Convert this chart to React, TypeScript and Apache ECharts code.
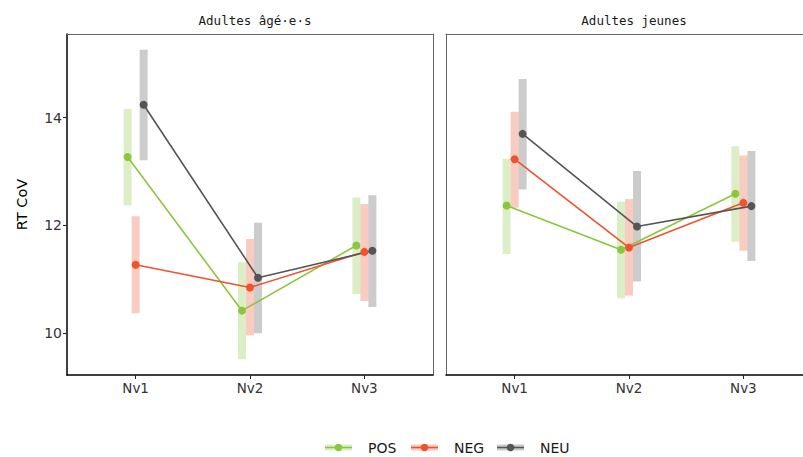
import React, { useEffect, useRef } from "react";
import * as echarts from "echarts";

const categories = ["Nv1", "Nv2", "Nv3"];
const panelTitles = ["Adultes âgé·e·s", "Adultes jeunes"];
const groups = ["POS", "NEG", "NEU"];
const groupColors = ["#8cc63f", "#f0522f", "#555555"];
const yTicks = [10, 12, 14];

// Adultes âgé·e·s
const posOld = [13.27, 10.42, 11.63];
const posOldLo = [12.37, 9.52, 10.73];
const posOldHi = [14.16, 11.32, 12.52];
const negOld = [11.27, 10.85, 11.51];
const negOldLo = [10.37, 9.96, 10.6];
const negOldHi = [12.17, 11.75, 12.4];
const neuOld = [14.24, 11.03, 11.53];
const neuOldLo = [13.21, 10.0, 10.49];
const neuOldHi = [15.26, 12.05, 12.56];

// Adultes jeunes
const posYoung = [12.37, 11.55, 12.59];
const posYoungLo = [11.47, 10.65, 11.7];
const posYoungHi = [13.24, 12.44, 13.47];
const negYoung = [13.23, 11.59, 12.42];
const negYoungLo = [12.33, 10.7, 11.53];
const negYoungHi = [14.11, 12.49, 13.3];
const neuYoung = [13.7, 11.98, 12.36];
const neuYoungLo = [12.67, 10.96, 11.34];
const neuYoungHi = [14.72, 13.01, 13.38];

const panelData = [
  [
    [posOld, posOldLo, posOldHi],
    [negOld, negOldLo, negOldHi],
    [neuOld, neuOldLo, neuOldHi],
  ],
  [
    [posYoung, posYoungLo, posYoungHi],
    [negYoung, negYoungLo, negYoungHi],
    [neuYoung, neuYoungLo, neuYoungHi],
  ],
];

const DODGE = 0.07;
const FONT = "DejaVu Sans";
const MONO = "DejaVu Sans Mono";
const X_MIN = 0.4;
const X_MAX = 3.6;
const Y_MIN = 9.226;
const Y_MAX = 15.553;

export default function App() {
  const ref = useRef<HTMLDivElement>(null);
  useEffect(() => {
    if (!ref.current) return;
    const chart = echarts.init(ref.current, null, { renderer: "svg" });

    const grids = [
      { left: 67, top: 34, width: 366, height: 341 },
      { left: 446, top: 34, width: 366, height: 341 },
    ].map((g) => ({ ...g, show: false, outerBoundsMode: "none" }));

    const frameLine = { show: true, lineStyle: { color: "#666", width: 1 } };

    const xAxes: any[] = [];
    const yAxes: any[] = [];
    [0, 1].forEach((i) => {
      xAxes.push({
        type: "value",
        gridIndex: i,
        min: X_MIN,
        max: X_MAX,
        position: "bottom",
        axisLine: { show: true, lineStyle: { color: "#000", width: 1.5 } },
        axisTick: {
          show: true,
          length: 4,
          customValues: [1, 2, 3],
          lineStyle: { color: "#222" },
        },
        axisLabel: {
          customValues: [1, 2, 3],
          formatter: (v: number) => categories[Math.round(v) - 1] ?? "",
          color: "#333",
          fontFamily: FONT,
          fontSize: 13.5,
          margin: 6,
        },
        splitLine: { show: false },
      });
      yAxes.push({
        type: "value",
        gridIndex: i,
        min: Y_MIN,
        max: Y_MAX,
        position: "left",
        name: i === 0 ? "RT CoV" : "",
        nameLocation: "middle",
        nameGap: 38,
        nameTextStyle: { fontFamily: FONT, fontSize: 14.5, color: "#000" },
        axisLine:
          i === 0
            ? { show: true, lineStyle: { color: "#000", width: 1.5 } }
            : frameLine,
        axisTick: {
          show: i === 0,
          length: 4,
          customValues: yTicks,
          lineStyle: { color: "#222" },
        },
        axisLabel: {
          show: i === 0,
          customValues: yTicks,
          color: "#333",
          fontFamily: FONT,
          fontSize: 14,
          margin: 5,
        },
        splitLine: { show: false },
      });
    });
    // frame: top edge of both panels, right edge of the first panel
    [0, 1].forEach((i) => {
      xAxes.push({
        type: "value",
        gridIndex: i,
        min: X_MIN,
        max: X_MAX,
        position: "top",
        axisLine: frameLine,
        axisTick: { show: false },
        axisLabel: { show: false },
        splitLine: { show: false },
      });
    });
    yAxes.push({
      type: "value",
      gridIndex: 0,
      min: Y_MIN,
      max: Y_MAX,
      position: "right",
      axisLine: frameLine,
      axisTick: { show: false },
      axisLabel: { show: false },
      splitLine: { show: false },
    });

    const series: any[] = [];
    panelData.forEach((groupsData, p) => {
      groupsData.forEach(([mean, lo, hi], g) => {
        const off = (g - 1) * DODGE;
        const color = groupColors[g];
        series.push({
          type: "custom",
          name: groups[g] + "_err_" + p,
          xAxisIndex: p,
          yAxisIndex: p,
          z: 1,
          encode: { x: 0, y: [1, 2] },
          data: categories.map((_, k) => [k + 1 + off, lo[k], hi[k]]),
          renderItem: (params: any, api: any) => {
            const x = api.value(0);
            const top = api.coord([x, api.value(2)]);
            const bot = api.coord([x, api.value(1)]);
            return {
              type: "rect",
              shape: { x: top[0] - 4, y: top[1], width: 8, height: bot[1] - top[1] },
              style: { fill: color, opacity: 0.3 },
            };
          },
        });
      });
    });
    panelData.forEach((groupsData, p) => {
      groupsData.forEach(([mean], g) => {
        const off = (g - 1) * DODGE;
        series.push({
          type: "line",
          name: groups[g],
          xAxisIndex: p,
          yAxisIndex: p,
          z: 3,
          data: categories.map((_, k) => [k + 1 + off, mean[k]]),
          symbol: "circle",
          symbolSize: 8,
          showSymbol: true,
          lineStyle: { color: groupColors[g], width: 1.6 },
          itemStyle: { color: groupColors[g] },
        });
      });
    });

    // legend drawn as graphic elements (key glyph: band + line + point, then label)
    const legendIconX = [325, 411, 497];
    const legendCy = 447.5;
    const iconW = 27;
    const legendGraphics: any[] = [];
    groups.forEach((g, i) => {
      const x = legendIconX[i];
      const c = groupColors[i];
      legendGraphics.push(
        {
          type: "rect",
          shape: { x, y: legendCy - 3, width: iconW, height: 6 },
          style: { fill: c, opacity: 0.3 },
        },
        {
          type: "line",
          shape: { x1: x, y1: legendCy, x2: x + iconW, y2: legendCy },
          style: { stroke: c, lineWidth: 1.6 },
        },
        {
          type: "circle",
          shape: { cx: x + iconW / 2, cy: legendCy, r: 3.8 },
          style: { fill: c },
        },
        {
          type: "text",
          x: x + iconW + 16,
          y: legendCy,
          style: {
            text: g,
            fontFamily: FONT,
            fontSize: 14,
            fill: "#1a1a1a",
            verticalAlign: "middle",
            align: "left",
          },
        }
      );
    });

    chart.setOption({
      animation: false,
      backgroundColor: "#fff",
      title: panelTitles.map((t, i) => ({
        text: t,
        left: i === 0 ? 250 : 629,
        top: 9,
        textAlign: "center",
        textStyle: { fontFamily: MONO, fontSize: 12.5, fontWeight: "normal", color: "#1a1a1a" },
      })),
      grid: grids,
      xAxis: xAxes,
      yAxis: yAxes,
      graphic: legendGraphics,
      series,
    });

    return () => chart.dispose();
  }, []);

  return (
    <div
      style={{
        position: "fixed",
        left: 0,
        top: 0,
        width: 803,
        height: 457,
        overflow: "hidden",
        background: "#fff",
      }}
    >
      <div ref={ref} style={{ width: 830, height: 457 }} />
    </div>
  );
}
